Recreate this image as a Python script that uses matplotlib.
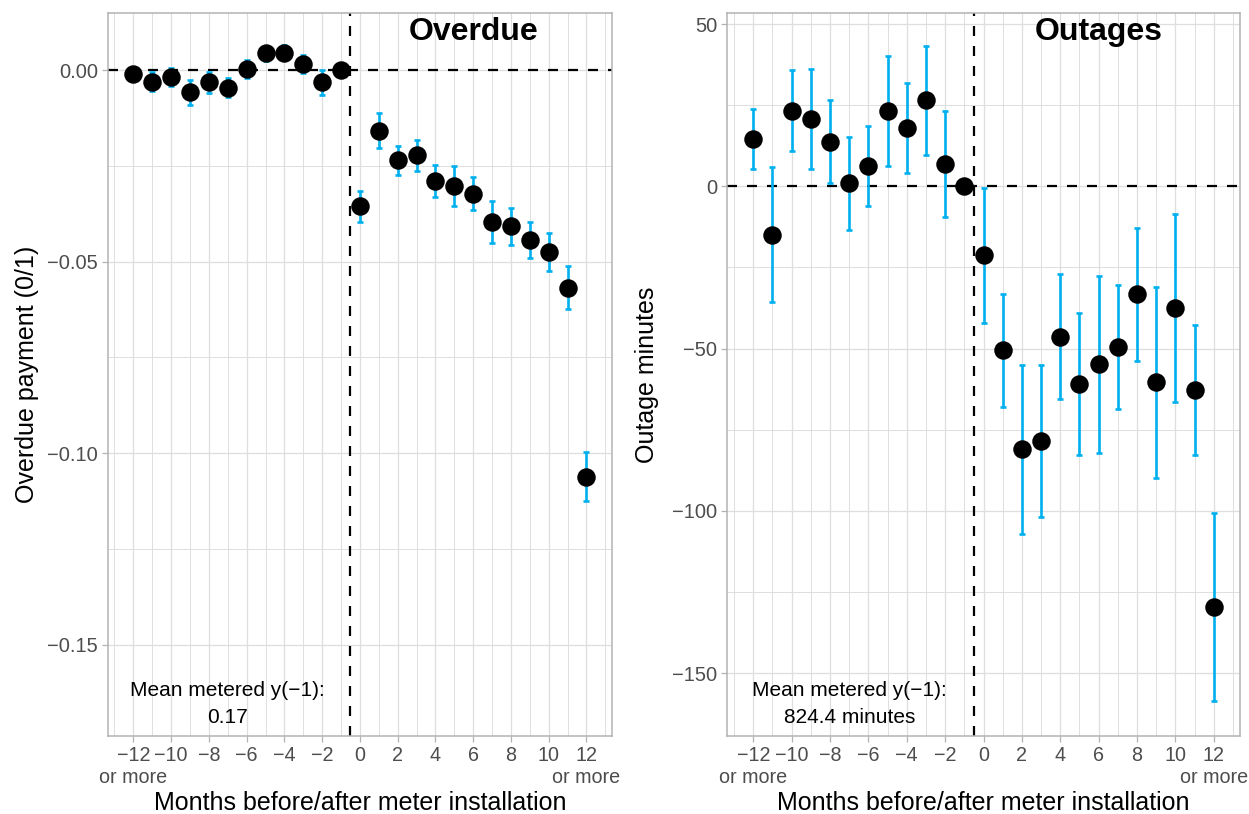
import matplotlib
matplotlib.use('Agg')
import matplotlib.pyplot as plt
from matplotlib.ticker import MultipleLocator, FixedLocator
import matplotlib.transforms as mtransforms

plt.rcParams['font.family'] = ['Liberation Sans', 'DejaVu Sans']

# ---------------- data ----------------
months = list(range(-12, 13))

overdue_est = [-0.0009, -0.0029, -0.0017, -0.0057, -0.0031, -0.0045, 0.0004, 0.0045,
               0.0046, 0.0017, -0.0031, 0.0,
               -0.0355, -0.0157, -0.0235, -0.0222, -0.0289, -0.0302, -0.0322,
               -0.0396, -0.0407, -0.0442, -0.0475, -0.0568, -0.1061]
overdue_ci = [0.0012, 0.0025, 0.0024, 0.0033, 0.0027, 0.0025, 0.0024, 0.0020,
              0.0020, 0.0024, 0.0032, 0.0,
              0.0041, 0.0046, 0.0037, 0.0040, 0.0041, 0.0053, 0.0044,
              0.0055, 0.0048, 0.0047, 0.0050, 0.0056, 0.0065]

outage_est = [14.6, -14.9, 23.3, 20.7, 13.8, 0.9, 6.2, 23.3, 17.9, 26.5, 6.8, 0.0,
              -21.3, -50.6, -81.1, -78.5, -46.4, -60.9, -54.9, -49.4, -33.3,
              -60.4, -37.6, -62.7, -129.7]
outage_ci = [9.3, 20.8, 12.5, 15.4, 12.7, 14.3, 12.4, 17.0, 13.9, 16.8, 16.4, 0.0,
             20.7, 17.4, 25.9, 23.4, 19.3, 21.8, 27.2, 19.1, 20.4, 29.5, 29.0,
             20.1, 29.0]

x_tick_values = list(range(-12, 13, 2))
x_tick_labels = ['\u221212', '\u221210', '\u22128', '\u22126', '\u22124', '\u22122',
                 '0', '2', '4', '6', '8', '10', '12']
x_tick_sublabel = 'or more'
x_sublabel_positions = [-12, 12]

overdue_yticks = [0.0, -0.05, -0.10, -0.15]
overdue_yticklabels = ['0.00', '\u22120.05', '\u22120.10', '\u22120.15']
outage_yticks = [50, 0, -50, -100, -150]
outage_yticklabels = ['50', '0', '\u221250', '\u2212100', '\u2212150']

panel_titles = ['Overdue', 'Outages']
y_titles = ['Overdue payment (0/1)', 'Outage minutes']
x_title = 'Months before/after meter installation'
mean_label = 'Mean metered y(\u22121):'
mean_values = ['0.17', '824.4 minutes']

# ---------------- styling ----------------
W, H = 1249, 814
fig = plt.figure(figsize=(W / 100, H / 100), dpi=100)

ERR_COLOR = '#00B0EE'
GRID_COLOR = '#DEDEDE'
BORDER_COLOR = '#B3B3B3'
TICK_TEXT = '#4D4D4D'


def px_rect(x0, x1, ytop, ybot):
    return [x0 / W, 1 - ybot / H, (x1 - x0) / W, (ybot - ytop) / H]


ax1 = fig.add_axes(px_rect(107.5, 612.3, 13, 736))
ax2 = fig.add_axes(px_rect(727, 1240, 13, 736))

panels = [
    (ax1, overdue_est, overdue_ci, overdue_yticks, overdue_yticklabels,
     (-0.1739, 0.0150), 0.025, -0.160),
    (ax2, outage_est, outage_ci, outage_yticks, outage_yticklabels,
     (-169.4, 53.4), 25, -0.156),
]

for i, (ax, est, ci, yt, ytl, ylim, yminor, ylab_x) in enumerate(panels):
    ax.set_xlim(-13.37, 13.37)
    ax.set_ylim(*ylim)

    # grid
    ax.xaxis.set_major_locator(FixedLocator(x_tick_values))
    ax.xaxis.set_minor_locator(MultipleLocator(1))
    ax.yaxis.set_major_locator(FixedLocator(yt))
    ax.yaxis.set_minor_locator(MultipleLocator(yminor))
    ax.grid(True, which='major', color=GRID_COLOR, linewidth=0.9, zorder=0)
    ax.grid(True, which='minor', color=GRID_COLOR, linewidth=0.7, zorder=0)
    ax.set_axisbelow(True)

    ax.set_xticklabels(x_tick_labels, fontsize=14.2, color=TICK_TEXT)
    ax.set_yticklabels(ytl, fontsize=14.5, color=TICK_TEXT)
    ax.tick_params(which='major', length=4, width=0.9, color=BORDER_COLOR, pad=3)
    ax.tick_params(which='minor', length=0)

    for sp in ax.spines.values():
        sp.set_color(BORDER_COLOR)
        sp.set_linewidth(1.1)

    # reference lines
    ax.axhline(0, color='black', linestyle=(0, (4.5, 4.5)), linewidth=1.6, zorder=2)
    ax.axvline(-0.5, color='black', linestyle=(0, (4.5, 4.5)), linewidth=1.6, zorder=2)

    # error bars and points
    ax.errorbar(months, est, yerr=ci, fmt='none', ecolor=ERR_COLOR,
                elinewidth=1.9, capsize=2.3, capthick=1.9, zorder=3)
    ax.plot(months, est, 'o', color='black', markersize=12.3, zorder=4)

    trans = mtransforms.blended_transform_factory(ax.transData, ax.transAxes)

    # second line of end tick labels
    for xs in x_sublabel_positions:
        ax.text(xs, -0.058, x_tick_sublabel, transform=trans, ha='center',
                va='center', fontsize=14.2, color=TICK_TEXT)

    # labels
    ax.set_xlabel(x_title, fontsize=18, color='black')
    ax.xaxis.label.set_va('center')
    ax.xaxis.set_label_coords(0.5, -0.0925)
    ax.set_ylabel(y_titles[i], fontsize=18, color='black')
    ax.yaxis.label.set_va('center')
    ax.yaxis.set_label_coords(ylab_x, 0.5)

    ax.text(6, 0.974, panel_titles[i], transform=trans, ha='center', va='center',
            fontsize=23, fontweight='bold', color='black')
    ax.text(-7, 0.0636, mean_label, transform=trans, ha='center', va='center',
            fontsize=15, color='black')
    ax.text(-7, 0.0250, mean_values[i], transform=trans, ha='center', va='center',
            fontsize=15, color='black')

fig.savefig('out.png', dpi=100)
